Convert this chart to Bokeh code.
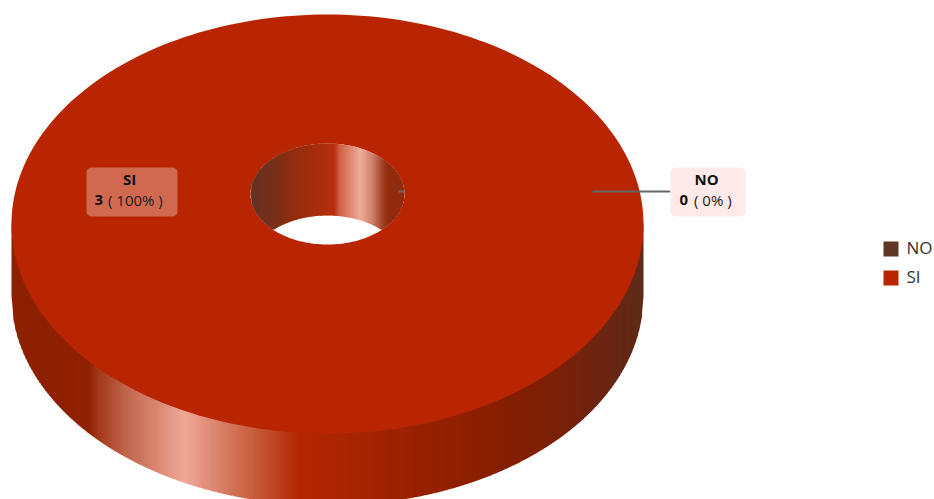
import math
from bokeh.plotting import figure
from bokeh.models import Range1d
from bokeh.core.properties import value
from bokeh.embed import file_html
from bokeh.resources import INLINE

categories = ["NO", "SI"]
counts = [0, 3]
legend_colors = ["#5f3727", "#b82500"]

FONT = "Open Sans"
total = sum(counts)
shares = [c / total for c in counts]

CX, CY, RX, RY = 327.0, 223.5, 316.0, 209.5
HCY, HRX, HRY = 193.5, 77.0, 50.5
DEPTH = 72.0

outer_stops = [(11, "#8c2000"), (88, "#8f2000"), (98, "#a2371a"), (125, "#c0654c"), (165, "#e0907c"),
               (183, "#f0a898"), (215, "#dc8570"), (250, "#c8603f"), (278, "#bc4020"), (298, "#b42600"),
               (400, "#9c2200"), (500, "#861e00"), (560, "#7a2008"), (600, "#6c2410"), (643, "#5f2a18")]
inner_stops = [(250, "#5c2818"), (272, "#70240e"), (296, "#902200"), (334, "#b42400"), (339, "#cc5a3c"),
               (360, "#eea694"), (372, "#cc7a64"), (384, "#962c0c"), (388, "#8c2000"), (404, "#8c2000")]


def mix(stops, x):
    for (a, ca), (b, cb) in zip(stops, stops[1:]):
        if x <= b:
            t = max(0.0, (x - a) / (b - a))
            pa = [int(ca[i:i + 2], 16) for i in (1, 3, 5)]
            pb = [int(cb[i:i + 2], 16) for i in (1, 3, 5)]
            return "#%02x%02x%02x" % tuple(round(u + (v - u) * t) for u, v in zip(pa, pb))
    return stops[-1][1]


def half(x, cx, rx, ry):
    u = min(1.0, abs(x - cx) / rx)
    return ry * math.sqrt(1 - u * u)


def strips(x0, x1, step):
    n = int((x1 - x0) / step)
    return [(x0 + i * (x1 - x0) / n, x0 + (i + 1) * (x1 - x0) / n) for i in range(n)]


def rounded(x0, y0, x1, y1, r):
    xs, ys = [], []
    for cx, cy, a in [(x1 - r, y0 + r, -90), (x1 - r, y1 - r, 0), (x0 + r, y1 - r, 90), (x0 + r, y0 + r, 180)]:
        for k in range(7):
            t = math.radians(a + k * 15)
            xs.append(cx + r * math.cos(t))
            ys.append(cy + r * math.sin(t))
    return xs, ys


p = figure(width=934, height=499, x_range=Range1d(0, 934), y_range=Range1d(499, 0),
           output_backend="svg", toolbar_location=None, min_border=0)
p.axis.visible = False
p.grid.visible = False
p.outline_line_color = None
p.background_fill_color = "#ffffff"
p.border_fill_color = "#ffffff"

# outer wall
xs, ys, cs = [], [], []
for a, b in strips(CX - RX, CX + RX, 2.0):
    b2 = min(b + 0.5, CX + RX)
    ta, tb = half(a, CX, RX, RY), half(b2, CX, RX, RY)
    xs.append([a, b2, b2, a])
    ys.append([CY + ta - 3, CY + tb - 3, CY + tb + DEPTH, CY + ta + DEPTH])
    cs.append(mix(outer_stops, (a + b) / 2))
p.patches(xs, ys, fill_color=cs, line_color=None)

# top face, one ring sector per category
for share, col in zip(shares, legend_colors):
    if share <= 0:
        continue
    n = 240
    angs = [2 * math.pi * share * i / n for i in range(n + 1)]
    ox = [CX + RX * math.cos(t) for t in angs]
    oy = [CY + RY * math.sin(t) for t in angs]
    ix = [CX + HRX * math.cos(t) for t in reversed(angs)]
    iy = [HCY + HRY * math.sin(t) for t in reversed(angs)]
    p.patch(ox + ix, oy + iy, fill_color=col, line_color=None)

# inner wall of the hole
xs, ys, cs = [], [], []
for a, b in strips(CX - HRX, CX + HRX, 1.0):
    b2 = min(b + 0.4, CX + HRX)
    ha, hb = half(a, CX, HRX, HRY), half(b2, CX, HRX, HRY)
    xs.append([a, b2, b2, a])
    ys.append([HCY - ha, HCY - hb, min(HCY + hb, HCY - hb + DEPTH), min(HCY + ha, HCY - ha + DEPTH)])
    cs.append(mix(inner_stops, (a + b) / 2))
p.patches(xs, ys, fill_color=cs, line_color=None)

# leader of the empty slice
p.line([592, 670], [191, 191], line_color="#666666", line_width=2)
p.line([398, 404], [191, 191], line_color="#666666", line_width=2)

# data labels
boxes = {"NO": (670, 167, 745, 216, "#ffe9e9", 1.0, 706, 680, 694),
         "SI": (86, 167, 177, 216, "#ffe8e8", 0.35, 129, 95, 108)}
for cat, cnt, share in zip(categories, counts, shares):
    x0, y0, x1, y1, col, alpha, mid, nx, px = boxes[cat]
    bx, by = rounded(x0, y0, x1, y1, 5)
    p.patch(bx, by, fill_color=col, fill_alpha=alpha, line_color=None)
    p.text([mid], [178.5], text=[cat], text_font=value(FONT), text_font_size="15px", text_font_style="bold",
           text_color="#111111", text_align="center", text_baseline="middle")
    p.text([nx - 1], [199], text=[str(cnt)], text_font=value(FONT), text_font_size="15px", text_font_style="bold",
           text_color="#111111", text_align="left", text_baseline="middle")
    p.text([px - 0.5], [199], text=[f"( {round(share * 100)}% )"], text_font=value(FONT), text_font_size="15px",
           text_color="#222222", text_align="left", text_baseline="middle")

# legend
for cat, col, y in zip(categories, legend_colors, [248.5, 277.5]):
    p.quad(left=[883], right=[898], top=[y - 7.5], bottom=[y + 7.5], fill_color=col, line_color=None)
    p.text([906], [y - 1.5], text=[cat], text_font=value(FONT), text_font_size="17px", text_color="#333333",
           text_align="left", text_baseline="middle")

open("out.html", "w").write(file_html(p, INLINE))
